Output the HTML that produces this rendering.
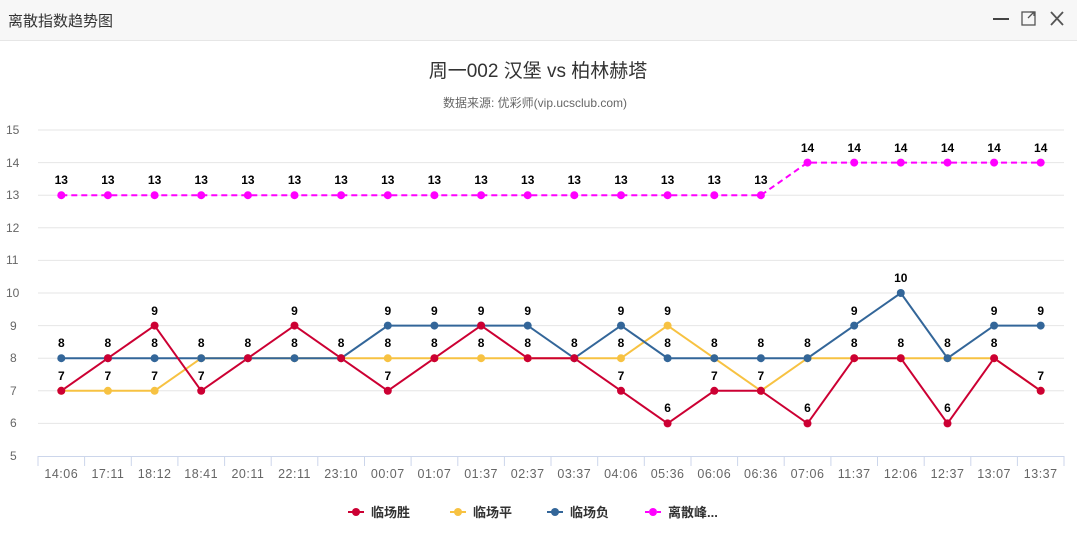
<!DOCTYPE html>
<html><head><meta charset="utf-8"><style>
body{margin:0;width:1077px;height:537px;background:#fff;font-family:"Liberation Sans","Noto Sans CJK SC",sans-serif;overflow:hidden}
.hd{height:40px;background:#f7f7f7;border-bottom:1px solid #e6e6e6;position:relative}
.hd span{position:absolute;left:8px;top:10px;font-size:15px;color:#333}
</style></head><body>
<div class="hd"><span>离散指数趋势图</span>
<svg width="1077" height="40" style="position:absolute;left:0;top:0">
<line x1="993" y1="19" x2="1009" y2="19" stroke="#444" stroke-width="2"/>
<rect x="1022" y="12" width="13" height="13" fill="none" stroke="#555" stroke-width="1.3"/>
<path d="M1028 18 L1034 12 M1030 12 H1034 V16" stroke="#555" fill="none" stroke-width="1.3"/>
<path d="M1051 12 L1063 25 M1063 12 L1051 25" stroke="#555" stroke-width="1.8"/>
</svg></div>
<svg width="1077" height="496" viewBox="0 41 1077 496" style="display:block" font-family="Liberation Sans, Noto Sans CJK SC, sans-serif">
<text x="538" y="77" font-size="19" fill="#333" text-anchor="middle">周一002 汉堡 vs 柏林赫塔</text>
<text x="535" y="107" font-size="12" fill="#666" text-anchor="middle">数据来源: 优彩师(vip.ucsclub.com)</text>
<g stroke="#e6e6e6" stroke-width="1">
<line x1="38" y1="130" x2="1064" y2="130"/><line x1="38" y1="162.6" x2="1064" y2="162.6"/><line x1="38" y1="195.2" x2="1064" y2="195.2"/><line x1="38" y1="227.8" x2="1064" y2="227.8"/><line x1="38" y1="260.4" x2="1064" y2="260.4"/><line x1="38" y1="293" x2="1064" y2="293"/><line x1="38" y1="325.6" x2="1064" y2="325.6"/><line x1="38" y1="358.2" x2="1064" y2="358.2"/><line x1="38" y1="390.8" x2="1064" y2="390.8"/><line x1="38" y1="423.4" x2="1064" y2="423.4"/>
</g>
<line x1="38" y1="456.5" x2="1064" y2="456.5" stroke="#ccd6eb"/>
<g stroke="#ccd6eb"><line x1="38" y1="456" x2="38" y2="466"/><line x1="84.6" y1="456" x2="84.6" y2="466"/><line x1="131.3" y1="456" x2="131.3" y2="466"/><line x1="177.9" y1="456" x2="177.9" y2="466"/><line x1="224.6" y1="456" x2="224.6" y2="466"/><line x1="271.2" y1="456" x2="271.2" y2="466"/><line x1="317.8" y1="456" x2="317.8" y2="466"/><line x1="364.5" y1="456" x2="364.5" y2="466"/><line x1="411.1" y1="456" x2="411.1" y2="466"/><line x1="457.8" y1="456" x2="457.8" y2="466"/><line x1="504.4" y1="456" x2="504.4" y2="466"/><line x1="551" y1="456" x2="551" y2="466"/><line x1="597.7" y1="456" x2="597.7" y2="466"/><line x1="644.3" y1="456" x2="644.3" y2="466"/><line x1="691" y1="456" x2="691" y2="466"/><line x1="737.6" y1="456" x2="737.6" y2="466"/><line x1="784.2" y1="456" x2="784.2" y2="466"/><line x1="830.9" y1="456" x2="830.9" y2="466"/><line x1="877.5" y1="456" x2="877.5" y2="466"/><line x1="924.2" y1="456" x2="924.2" y2="466"/><line x1="970.8" y1="456" x2="970.8" y2="466"/><line x1="1017.4" y1="456" x2="1017.4" y2="466"/><line x1="1064" y1="456" x2="1064" y2="466"/></g>
<g font-size="12" fill="#666">
<text x="6" y="134">15</text><text x="6" y="167">14</text><text x="6" y="199">13</text><text x="6" y="232">12</text><text x="6" y="264">11</text><text x="6" y="297">10</text><text x="10" y="330">9</text><text x="10" y="362">8</text><text x="10" y="395">7</text><text x="10" y="427">6</text><text x="10" y="460">5</text>
</g>
<g font-size="12.5" fill="#666" text-anchor="middle" letter-spacing="0.5">
<text x="61.3" y="478">14:06</text><text x="107.9" y="478">17:11</text><text x="154.6" y="478">18:12</text><text x="201.2" y="478">18:41</text><text x="247.9" y="478">20:11</text><text x="294.5" y="478">22:11</text><text x="341.1" y="478">23:10</text><text x="387.8" y="478">00:07</text><text x="434.4" y="478">01:07</text><text x="481.1" y="478">01:37</text><text x="527.7" y="478">02:37</text><text x="574.3" y="478">03:37</text><text x="621" y="478">04:06</text><text x="667.6" y="478">05:36</text><text x="714.3" y="478">06:06</text><text x="760.9" y="478">06:36</text><text x="807.5" y="478">07:06</text><text x="854.2" y="478">11:37</text><text x="900.8" y="478">12:06</text><text x="947.5" y="478">12:37</text><text x="994.1" y="478">13:07</text><text x="1040.7" y="478">13:37</text>
</g>
<polyline fill="none" stroke="#ff00ff" stroke-width="2" stroke-dasharray="6,4" points="61.3,195.2 107.9,195.2 154.6,195.2 201.2,195.2 247.9,195.2 294.5,195.2 341.1,195.2 387.8,195.2 434.4,195.2 481.1,195.2 527.7,195.2 574.3,195.2 621,195.2 667.6,195.2 714.3,195.2 760.9,195.2 807.5,162.6 854.2,162.6 900.8,162.6 947.5,162.6 994.1,162.6 1040.7,162.6"/>
<polyline fill="none" stroke="#f7c242" stroke-width="2" points="61.3,390.8 107.9,390.8 154.6,390.8 201.2,358.2 247.9,358.2 294.5,358.2 341.1,358.2 387.8,358.2 434.4,358.2 481.1,358.2 527.7,358.2 574.3,358.2 621,358.2 667.6,325.6 714.3,358.2 760.9,390.8 807.5,358.2 854.2,358.2 900.8,358.2 947.5,358.2 994.1,358.2 1040.7,390.8"/>
<polyline fill="none" stroke="#336699" stroke-width="2" points="61.3,358.2 107.9,358.2 154.6,358.2 201.2,358.2 247.9,358.2 294.5,358.2 341.1,358.2 387.8,325.6 434.4,325.6 481.1,325.6 527.7,325.6 574.3,358.2 621,325.6 667.6,358.2 714.3,358.2 760.9,358.2 807.5,358.2 854.2,325.6 900.8,293 947.5,358.2 994.1,325.6 1040.7,325.6"/>
<polyline fill="none" stroke="#cc0033" stroke-width="2" points="61.3,390.8 107.9,358.2 154.6,325.6 201.2,390.8 247.9,358.2 294.5,325.6 341.1,358.2 387.8,390.8 434.4,358.2 481.1,325.6 527.7,358.2 574.3,358.2 621,390.8 667.6,423.4 714.3,390.8 760.9,390.8 807.5,423.4 854.2,358.2 900.8,358.2 947.5,423.4 994.1,358.2 1040.7,390.8"/>
<g fill="#ff00ff"><circle cx="61.3" cy="195.2" r="4"/><circle cx="107.9" cy="195.2" r="4"/><circle cx="154.6" cy="195.2" r="4"/><circle cx="201.2" cy="195.2" r="4"/><circle cx="247.9" cy="195.2" r="4"/><circle cx="294.5" cy="195.2" r="4"/><circle cx="341.1" cy="195.2" r="4"/><circle cx="387.8" cy="195.2" r="4"/><circle cx="434.4" cy="195.2" r="4"/><circle cx="481.1" cy="195.2" r="4"/><circle cx="527.7" cy="195.2" r="4"/><circle cx="574.3" cy="195.2" r="4"/><circle cx="621" cy="195.2" r="4"/><circle cx="667.6" cy="195.2" r="4"/><circle cx="714.3" cy="195.2" r="4"/><circle cx="760.9" cy="195.2" r="4"/><circle cx="807.5" cy="162.6" r="4"/><circle cx="854.2" cy="162.6" r="4"/><circle cx="900.8" cy="162.6" r="4"/><circle cx="947.5" cy="162.6" r="4"/><circle cx="994.1" cy="162.6" r="4"/><circle cx="1040.7" cy="162.6" r="4"/></g>
<g fill="#f7c242"><circle cx="61.3" cy="390.8" r="4"/><circle cx="107.9" cy="390.8" r="4"/><circle cx="154.6" cy="390.8" r="4"/><circle cx="201.2" cy="358.2" r="4"/><circle cx="247.9" cy="358.2" r="4"/><circle cx="294.5" cy="358.2" r="4"/><circle cx="341.1" cy="358.2" r="4"/><circle cx="387.8" cy="358.2" r="4"/><circle cx="434.4" cy="358.2" r="4"/><circle cx="481.1" cy="358.2" r="4"/><circle cx="527.7" cy="358.2" r="4"/><circle cx="574.3" cy="358.2" r="4"/><circle cx="621" cy="358.2" r="4"/><circle cx="667.6" cy="325.6" r="4"/><circle cx="714.3" cy="358.2" r="4"/><circle cx="760.9" cy="390.8" r="4"/><circle cx="807.5" cy="358.2" r="4"/><circle cx="854.2" cy="358.2" r="4"/><circle cx="900.8" cy="358.2" r="4"/><circle cx="947.5" cy="358.2" r="4"/><circle cx="994.1" cy="358.2" r="4"/><circle cx="1040.7" cy="390.8" r="4"/></g>
<g fill="#336699"><circle cx="61.3" cy="358.2" r="4"/><circle cx="107.9" cy="358.2" r="4"/><circle cx="154.6" cy="358.2" r="4"/><circle cx="201.2" cy="358.2" r="4"/><circle cx="247.9" cy="358.2" r="4"/><circle cx="294.5" cy="358.2" r="4"/><circle cx="341.1" cy="358.2" r="4"/><circle cx="387.8" cy="325.6" r="4"/><circle cx="434.4" cy="325.6" r="4"/><circle cx="481.1" cy="325.6" r="4"/><circle cx="527.7" cy="325.6" r="4"/><circle cx="574.3" cy="358.2" r="4"/><circle cx="621" cy="325.6" r="4"/><circle cx="667.6" cy="358.2" r="4"/><circle cx="714.3" cy="358.2" r="4"/><circle cx="760.9" cy="358.2" r="4"/><circle cx="807.5" cy="358.2" r="4"/><circle cx="854.2" cy="325.6" r="4"/><circle cx="900.8" cy="293" r="4"/><circle cx="947.5" cy="358.2" r="4"/><circle cx="994.1" cy="325.6" r="4"/><circle cx="1040.7" cy="325.6" r="4"/></g>
<g fill="#cc0033"><circle cx="61.3" cy="390.8" r="4"/><circle cx="107.9" cy="358.2" r="4"/><circle cx="154.6" cy="325.6" r="4"/><circle cx="201.2" cy="390.8" r="4"/><circle cx="247.9" cy="358.2" r="4"/><circle cx="294.5" cy="325.6" r="4"/><circle cx="341.1" cy="358.2" r="4"/><circle cx="387.8" cy="390.8" r="4"/><circle cx="434.4" cy="358.2" r="4"/><circle cx="481.1" cy="325.6" r="4"/><circle cx="527.7" cy="358.2" r="4"/><circle cx="574.3" cy="358.2" r="4"/><circle cx="621" cy="390.8" r="4"/><circle cx="667.6" cy="423.4" r="4"/><circle cx="714.3" cy="390.8" r="4"/><circle cx="760.9" cy="390.8" r="4"/><circle cx="807.5" cy="423.4" r="4"/><circle cx="854.2" cy="358.2" r="4"/><circle cx="900.8" cy="358.2" r="4"/><circle cx="947.5" cy="423.4" r="4"/><circle cx="994.1" cy="358.2" r="4"/><circle cx="1040.7" cy="390.8" r="4"/></g>
<g font-size="12" font-weight="bold" fill="#000" text-anchor="middle" stroke="#fff" stroke-width="2.5" paint-order="stroke">
<text x="61.3" y="380">7</text><text x="61.3" y="347">8</text><text x="61.3" y="184">13</text>
<text x="107.9" y="380">7</text><text x="107.9" y="347">8</text><text x="107.9" y="184">13</text>
<text x="154.6" y="380">7</text><text x="154.6" y="347">8</text><text x="154.6" y="315">9</text><text x="154.6" y="184">13</text>
<text x="201.2" y="380">7</text><text x="201.2" y="347">8</text><text x="201.2" y="184">13</text>
<text x="247.9" y="347">8</text><text x="247.9" y="184">13</text>
<text x="294.5" y="347">8</text><text x="294.5" y="315">9</text><text x="294.5" y="184">13</text>
<text x="341.1" y="347">8</text><text x="341.1" y="184">13</text>
<text x="387.8" y="380">7</text><text x="387.8" y="347">8</text><text x="387.8" y="315">9</text><text x="387.8" y="184">13</text>
<text x="434.4" y="347">8</text><text x="434.4" y="315">9</text><text x="434.4" y="184">13</text>
<text x="481.1" y="347">8</text><text x="481.1" y="315">9</text><text x="481.1" y="184">13</text>
<text x="527.7" y="347">8</text><text x="527.7" y="315">9</text><text x="527.7" y="184">13</text>
<text x="574.3" y="347">8</text><text x="574.3" y="184">13</text>
<text x="621" y="380">7</text><text x="621" y="347">8</text><text x="621" y="315">9</text><text x="621" y="184">13</text>
<text x="667.6" y="412">6</text><text x="667.6" y="347">8</text><text x="667.6" y="315">9</text><text x="667.6" y="184">13</text>
<text x="714.3" y="380">7</text><text x="714.3" y="347">8</text><text x="714.3" y="184">13</text>
<text x="760.9" y="380">7</text><text x="760.9" y="347">8</text><text x="760.9" y="184">13</text>
<text x="807.5" y="412">6</text><text x="807.5" y="347">8</text><text x="807.5" y="152">14</text>
<text x="854.2" y="347">8</text><text x="854.2" y="315">9</text><text x="854.2" y="152">14</text>
<text x="900.8" y="347">8</text><text x="900.8" y="282">10</text><text x="900.8" y="152">14</text>
<text x="947.5" y="412">6</text><text x="947.5" y="347">8</text><text x="947.5" y="152">14</text>
<text x="994.1" y="347">8</text><text x="994.1" y="315">9</text><text x="994.1" y="152">14</text>
<text x="1040.7" y="380">7</text><text x="1040.7" y="315">9</text><text x="1040.7" y="152">14</text>
</g>
<g font-size="13" font-weight="bold" fill="#333">
<line x1="348" y1="512" x2="364" y2="512" stroke="#cc0033" stroke-width="2"/><circle cx="356" cy="512" r="4" fill="#cc0033"/><text x="371" y="517">临场胜</text>
<line x1="450" y1="512" x2="466" y2="512" stroke="#f7c242" stroke-width="2"/><circle cx="458" cy="512" r="4" fill="#f7c242"/><text x="473" y="517">临场平</text>
<line x1="547" y1="512" x2="563" y2="512" stroke="#336699" stroke-width="2"/><circle cx="555" cy="512" r="4" fill="#336699"/><text x="570" y="517">临场负</text>
<line x1="645" y1="512" x2="661" y2="512" stroke="#ff00ff" stroke-width="2" stroke-dasharray="4,2"/><circle cx="653" cy="512" r="4" fill="#ff00ff"/><text x="668" y="517">离散峰...</text>
</g>
</svg>
</body></html>
